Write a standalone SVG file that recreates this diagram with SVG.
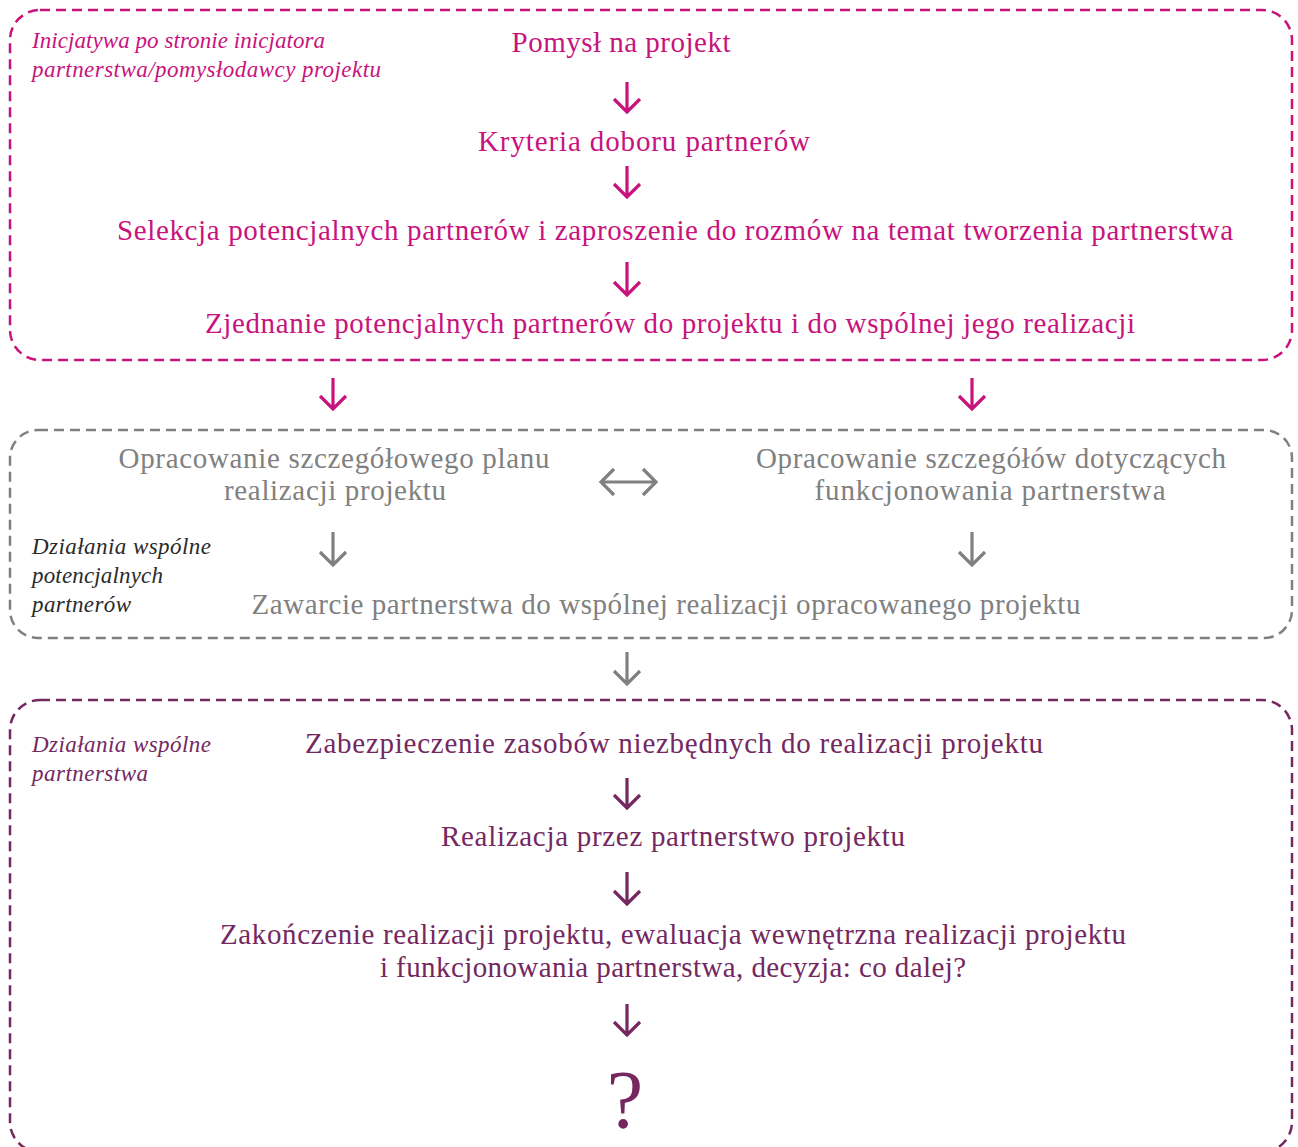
<svg xmlns="http://www.w3.org/2000/svg" width="1298" height="1147" viewBox="0 0 1298 1147">
<style>
.t{font-family:"Liberation Serif","DejaVu Serif",serif;font-size:29px;text-anchor:middle}
.i{font-family:"Liberation Serif","DejaVu Serif",serif;font-size:23px;font-style:italic}
.m{fill:#c8137d}
.g{fill:#808080}
.p{fill:#74285f}
.k{fill:#2a2a2a}
.box{fill:none;stroke-width:2.5;stroke-dasharray:10 6}
.arr{fill:none;stroke-width:3.2}
</style>
<rect width="1298" height="1147" fill="#fff"/>
<g id="box-top"><rect class="box" x="10" y="10" width="1282" height="350" rx="30" stroke="#c8137d"/></g>
<g id="box-mid"><rect class="box" x="10" y="430" width="1282" height="208" rx="28" stroke="#808080"/></g>
<g id="box-bot"><rect class="box" x="10" y="700" width="1282" height="452" rx="30" stroke="#74285f"/></g>
<g id="connectors">
<path class="arr" stroke="#c8137d" d="M627 82V112M614 99L627 112L640 99"/>
<path class="arr" stroke="#c8137d" d="M627 166V197M614 184L627 197L640 184"/>
<path class="arr" stroke="#c8137d" d="M627 262V295M614 282L627 295L640 282"/>
<path class="arr" stroke="#c8137d" d="M333 378V409M320 396L333 409L346 396"/>
<path class="arr" stroke="#c8137d" d="M972 378V409M959 396L972 409L985 396"/>
<path class="arr" stroke="#808080" d="M601 482H656M614 469L601 482L614 495M643 469L656 482L643 495"/>
<path class="arr" stroke="#808080" d="M333 532V565M320 552L333 565L346 552"/>
<path class="arr" stroke="#808080" d="M972 532V565M959 552L972 565L985 552"/>
<path class="arr" stroke="#808080" d="M627 652V684M614 671L627 684L640 671"/>
<path class="arr" stroke="#74285f" d="M627 778V808M614 795L627 808L640 795"/>
<path class="arr" stroke="#74285f" d="M627 872V904M614 891L627 904L640 891"/>
<path class="arr" stroke="#74285f" d="M627 1004V1035M614 1022L627 1035L640 1022"/>
</g>
<g id="label-top"><text class="i m" x="32" y="48" textLength="293">Inicjatywa po stronie inicjatora</text><text class="i m" x="32" y="77" textLength="349">partnerstwa/pomysłodawcy projektu</text></g>
<g id="n1"><text class="t m" x="621" y="52" textLength="219">Pomysł na projekt</text></g>
<g id="n2"><text class="t m" x="644" y="151" textLength="332">Kryteria doboru partnerów</text></g>
<g id="n3"><text class="t m" x="675" y="240" textLength="1116">Selekcja potencjalnych partnerów i zaproszenie do rozmów na temat tworzenia partnerstwa</text></g>
<g id="n4"><text class="t m" x="670" y="333" textLength="930">Zjednanie potencjalnych partnerów do projektu i do wspólnej jego realizacji</text></g>
<g id="label-mid"><text class="i k" x="32" y="554" textLength="179">Działania wspólne</text><text class="i k" x="32" y="583" textLength="131">potencjalnych</text><text class="i k" x="32" y="612" textLength="99">partnerów</text></g>
<g id="n5"><text class="t g" x="334" y="468" textLength="431">Opracowanie szczegółowego planu</text><text class="t g" x="335" y="500" textLength="222">realizacji projektu</text></g>
<g id="n6"><text class="t g" x="991" y="468" textLength="470">Opracowanie szczegółów dotyczących</text><text class="t g" x="990" y="500" textLength="351">funkcjonowania partnerstwa</text></g>
<g id="n7"><text class="t g" x="666" y="614" textLength="829">Zawarcie partnerstwa do wspólnej realizacji opracowanego projektu</text></g>
<g id="label-bot"><text class="i p" x="32" y="752" textLength="179">Działania wspólne</text><text class="i p" x="32" y="781" textLength="116">partnerstwa</text></g>
<g id="n8"><text class="t p" x="674" y="753" textLength="738">Zabezpieczenie zasobów niezbędnych do realizacji projektu</text></g>
<g id="n9"><text class="t p" x="673" y="846" textLength="464">Realizacja przez partnerstwo projektu</text></g>
<g id="n10"><text class="t p" x="673" y="944" textLength="906">Zakończenie realizacji projektu, ewaluacja wewnętrzna realizacji projektu</text><text class="t p" x="673" y="977" textLength="586">i funkcjonowania partnerstwa, decyzja: co dalej?</text></g>
<g id="n11"><text class="t p" x="625" y="1127" style="font-size:82px">?</text></g>
</svg>
